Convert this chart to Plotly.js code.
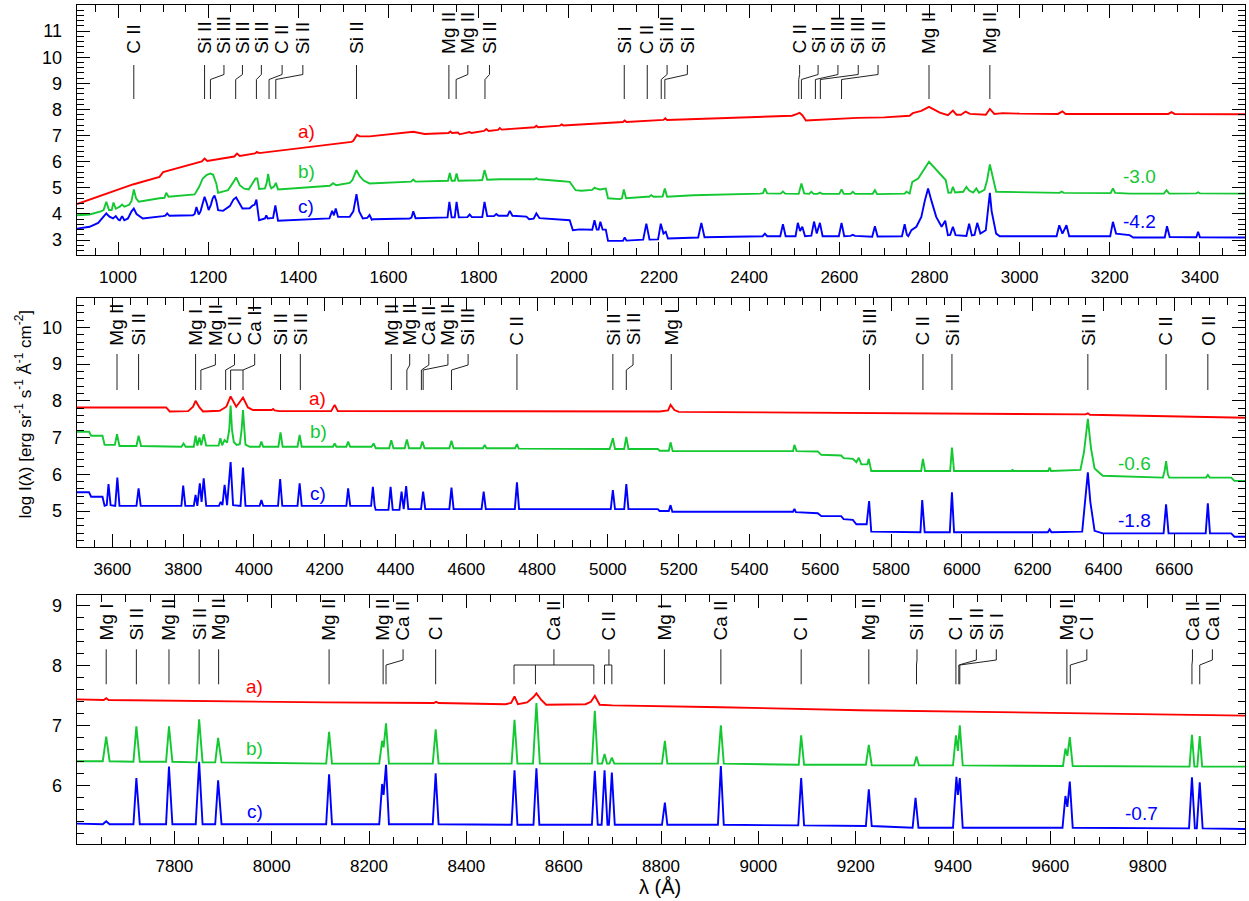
<!DOCTYPE html>
<html><head><meta charset="utf-8">
<script src="https://cdn.plot.ly/plotly-3.0.1.min.js"></script>
<style>body{margin:0;background:#fff}#chart{width:1249px;height:901px}</style>
</head><body><div id="chart"></div>
<script>
// ---------------- DATA ----------------
// Panel 1 spectra [wavelength (Å), log I]
const p1_a = [[909,4.38],[981,4.81],[1033,5.13],[1092,5.42],[1100,5.60],[1186,6.01],[1192,6.12],[1198,6.03],[1258,6.2],[1264,6.31],[1270,6.22],[1304,6.32],[1308,6.38],[1313,6.33],[1518,6.76],[1522,6.8],[1527,6.97],[1530,7.03],[1536,6.97],[1558,6.97],[1655,7.15],[1680,7.06],[1733,7.1],[1737,7.16],[1741,7.1],[1750,7.1],[1754,7.12],[1758,7.05],[1776,7.1],[1780,7.14],[1784,7.1],[1812,7.18],[1817,7.25],[1822,7.18],[1843,7.22],[1847,7.29],[1851,7.23],[1924,7.32],[1928,7.38],[1932,7.32],[1980,7.38],[1984,7.43],[1988,7.39],[2046,7.45],[2120,7.52],[2124,7.58],[2128,7.52],[2210,7.6],[2214,7.66],[2218,7.6],[2430,7.72],[2495,7.76],[2505,7.82],[2512,7.87],[2518,7.78],[2526,7.58],[2640,7.68],[2700,7.7],[2756,7.76],[2763,7.86],[2782,7.95],[2799,8.1],[2823,7.88],[2841,7.78],[2852,7.96],[2860,7.8],[2870,7.8],[2880,7.92],[2890,7.83],[2925,7.8],[2934,8.02],[2944,7.83],[2963,7.86],[3000,7.84],[3085,7.83],[3095,7.93],[3102,7.83],[3330,7.83],[3337,7.9],[3344,7.83],[3500,7.82]];
const p1_b = [[909,3.95],[937,3.98],[962,4.1],[968,4.15],[974,4.47],[980,4.15],[986,4.15],[990,4.44],[995,4.2],[1004,4.28],[1009,4.36],[1014,4.28],[1025,4.35],[1030,4.5],[1035,4.94],[1040,4.6],[1046,4.47],[1055,4.5],[1092,4.6],[1103,4.62],[1107,4.81],[1112,4.66],[1170,4.75],[1180,5.04],[1188,5.36],[1197,5.5],[1205,5.55],[1211,5.5],[1218,5.17],[1222,4.81],[1233,4.85],[1244,4.91],[1255,5.2],[1262,5.40],[1270,5.1],[1280,4.97],[1290,4.94],[1296,5.1],[1299,5.19],[1305,5.36],[1309,5.36],[1313,4.96],[1326,4.98],[1330,5.2],[1333,5.53],[1337,5.1],[1340,4.98],[1346,5.05],[1350,5.19],[1355,4.94],[1470,5.08],[1477,5.18],[1484,5.1],[1514,5.19],[1520,5.3],[1529,5.68],[1536,5.45],[1545,5.28],[1558,5.17],[1650,5.24],[1655,5.32],[1660,5.24],[1732,5.27],[1736,5.57],[1740,5.27],[1747,5.27],[1751,5.55],[1755,5.27],[1800,5.29],[1808,5.3],[1813,5.68],[1819,5.31],[1847,5.33],[1900,5.33],[1924,5.33],[1928,5.37],[1932,5.33],[1980,5.26],[2002,5.23],[2015,4.91],[2028,4.89],[2052,4.92],[2057,5.01],[2060,4.98],[2064,4.95],[2069,4.94],[2082,4.97],[2087,4.6],[2113,4.57],[2118,4.6],[2122,4.94],[2127,4.6],[2172,4.66],[2178,4.66],[2183,4.72],[2188,4.66],[2208,4.67],[2213,4.98],[2218,4.66],[2276,4.72],[2424,4.78],[2431,4.8],[2435,4.98],[2440,4.79],[2470,4.78],[2475,4.86],[2480,4.78],[2510,4.77],[2516,5.17],[2522,4.79],[2533,4.77],[2538,4.85],[2543,4.77],[2552,4.77],[2557,4.82],[2562,4.77],[2600,4.77],[2605,4.94],[2610,4.77],[2625,4.77],[2630,4.85],[2635,4.77],[2674,4.77],[2679,4.91],[2684,4.76],[2745,4.78],[2749,4.85],[2756,4.78],[2762,5.23],[2775,5.36],[2799,6.0],[2823,5.55],[2836,5.30],[2842,4.81],[2848,4.82],[2852,5.04],[2857,4.82],[2875,4.85],[2882,5.04],[2888,4.9],[2897,4.82],[2904,4.98],[2910,4.81],[2922,4.92],[2928,5.3],[2934,5.9],[2940,5.4],[2948,4.85],[3089,4.81],[3093,4.86],[3098,4.81],[3202,4.8],[3207,4.98],[3212,4.81],[3244,4.78],[3320,4.78],[3326,4.91],[3332,4.78],[3392,4.79],[3396,4.83],[3400,4.79],[3500,4.78]];
const p1_c = [[909,3.44],[937,3.51],[956,3.66],[967,3.89],[974,4.02],[981,3.9],[989,3.83],[995,3.92],[1001,3.78],[1004,3.76],[1009,3.92],[1014,3.76],[1022,3.83],[1030,4.1],[1035,4.21],[1041,4.0],[1048,3.9],[1055,3.83],[1100,3.92],[1105,3.94],[1109,4.02],[1114,3.93],[1166,3.95],[1170,4.0],[1174,4.27],[1179,3.98],[1183,4.1],[1187,4.4],[1192,4.66],[1197,4.4],[1201,4.15],[1206,4.35],[1210,4.6],[1214,4.71],[1218,4.5],[1222,4.15],[1233,4.12],[1248,4.3],[1256,4.55],[1262,4.63],[1268,4.45],[1276,4.21],[1292,4.22],[1299,4.33],[1303,4.35],[1307,4.55],[1311,4.0],[1313,3.76],[1326,3.83],[1329,3.95],[1332,3.83],[1344,3.85],[1349,4.33],[1353,3.85],[1355,3.74],[1469,3.83],[1475,4.12],[1479,3.95],[1483,4.21],[1488,3.89],[1514,3.89],[1522,4.1],[1529,4.76],[1535,4.1],[1543,3.83],[1553,3.85],[1558,3.96],[1563,3.78],[1566,3.8],[1647,3.83],[1651,3.86],[1655,4.1],[1660,3.84],[1731,3.87],[1735,4.46],[1740,3.87],[1747,3.87],[1751,4.46],[1756,3.87],[1775,3.88],[1780,3.98],[1785,3.88],[1808,3.88],[1813,4.46],[1819,3.92],[1834,3.92],[1839,4.0],[1844,3.93],[1864,3.93],[1869,4.12],[1875,3.93],[1906,3.9],[1912,3.8],[1922,3.82],[1928,4.02],[1935,3.84],[1972,3.79],[2002,3.76],[2009,3.38],[2024,3.41],[2052,3.4],[2057,3.76],[2062,3.4],[2066,3.4],[2070,3.70],[2075,3.4],[2082,3.4],[2087,2.97],[2120,2.97],[2124,3.1],[2128,2.98],[2165,3.02],[2172,3.63],[2179,3.02],[2198,3.03],[2204,3.63],[2210,3.25],[2215,3.32],[2220,3.06],[2287,3.10],[2294,3.66],[2301,3.11],[2430,3.15],[2435,3.25],[2440,3.15],[2469,3.15],[2475,3.61],[2481,3.15],[2503,3.15],[2508,3.66],[2513,3.35],[2518,3.51],[2524,3.15],[2538,3.17],[2544,3.71],[2550,3.25],[2557,3.66],[2563,3.15],[2599,3.15],[2605,3.66],[2611,3.15],[2625,3.16],[2630,3.2],[2635,3.16],[2673,3.13],[2679,3.53],[2685,3.14],[2739,3.15],[2745,3.61],[2750,3.2],[2753,3.15],[2760,3.38],[2771,3.51],[2782,3.89],[2790,4.53],[2797,4.98],[2804,4.53],[2815,3.89],[2827,3.51],[2835,3.74],[2841,3.19],[2846,3.2],[2852,3.51],[2858,3.19],[2882,3.16],[2888,3.63],[2894,3.18],[2900,3.2],[2906,3.66],[2913,3.25],[2925,3.38],[2930,4.1],[2934,4.81],[2938,4.1],[2943,3.6],[2948,3.25],[2956,3.15],[3082,3.15],[3088,3.57],[3095,3.25],[3104,3.57],[3110,3.15],[3201,3.15],[3207,3.70],[3214,3.25],[3244,3.19],[3252,3.10],[3322,3.1],[3327,3.53],[3333,3.12],[3392,3.11],[3396,3.32],[3400,3.11],[3500,3.10]];

// Panel 2 spectra
const p2_a = [[3500,7.82],[3752,7.82],[3762,7.71],[3814,7.72],[3828,7.84],[3835,8.0],[3846,7.82],[3856,7.71],[3903,7.73],[3922,7.84],[3934,8.12],[3950,7.84],[3969,8.09],[3983,7.82],[3997,7.75],[4050,7.75],[4054,7.78],[4058,7.74],[4072,7.72],[4218,7.72],[4228,7.89],[4237,7.72],[5146,7.71],[5170,7.74],[5177,7.89],[5188,7.75],[5200,7.7],[5767,7.66],[6350,7.63],[6356,7.66],[6362,7.62],[6800,7.54]];
const p2_b = [[3500,7.16],[3534,7.16],[3540,7.05],[3572,7.05],[3578,6.80],[3607,6.8],[3613,7.09],[3620,6.77],[3668,6.77],[3674,7.05],[3681,6.77],[3795,6.75],[3801,6.84],[3807,6.75],[3830,6.75],[3835,7.05],[3840,6.78],[3846,7.0],[3851,6.79],[3858,7.09],[3865,6.78],[3900,6.78],[3905,6.98],[3910,6.79],[3917,6.93],[3924,6.86],[3930,7.2],[3934,7.87],[3938,7.2],[3943,6.88],[3951,6.8],[3960,6.82],[3965,7.2],[3969,7.75],[3973,7.2],[3976,6.81],[3988,6.75],[4016,6.75],[4021,6.89],[4026,6.75],[4069,6.75],[4075,7.14],[4081,6.75],[4123,6.75],[4129,7.07],[4135,6.75],[4223,6.75],[4228,6.84],[4233,6.75],[4261,6.75],[4266,6.89],[4272,6.75],[4332,6.75],[4338,6.84],[4344,6.71],[4382,6.71],[4388,6.93],[4394,6.71],[4426,6.71],[4432,6.95],[4438,6.71],[4470,6.71],[4476,6.89],[4482,6.71],[4552,6.71],[4558,6.91],[4564,6.71],[4647,6.71],[4652,6.80],[4657,6.71],[4738,6.71],[4743,6.82],[4748,6.70],[5005,6.69],[5014,6.98],[5020,6.69],[5046,6.69],[5052,7.02],[5058,6.69],[5141,6.69],[5146,6.64],[5172,6.64],[5177,6.87],[5183,6.63],[5523,6.63],[5527,6.80],[5533,6.63],[5593,6.62],[5603,6.53],[5659,6.51],[5666,6.44],[5692,6.42],[5702,6.33],[5709,6.45],[5716,6.27],[5733,6.27],[5737,6.42],[5741,6.27],[5744,6.09],[5885,6.09],[5890,6.42],[5896,6.09],[5967,6.09],[5972,6.73],[5978,6.09],[6139,6.09],[6143,6.12],[6147,6.09],[6244,6.09],[6248,6.18],[6252,6.09],[6335,6.12],[6345,6.6],[6356,7.51],[6365,6.7],[6375,6.16],[6398,5.96],[6568,5.91],[6573,6.1],[6577,6.36],[6582,6.0],[6586,5.91],[6690,5.91],[6695,5.98],[6700,5.91],[6761,5.91],[6770,5.82],[6800,5.82]];
const p2_c = [[3500,5.51],[3534,5.51],[3540,5.39],[3572,5.39],[3578,5.14],[3584,5.16],[3589,5.73],[3595,5.16],[3608,5.14],[3614,5.91],[3620,5.14],[3668,5.14],[3674,5.62],[3680,5.14],[3795,5.14],[3800,5.69],[3806,5.14],[3830,5.14],[3835,5.44],[3840,5.14],[3847,5.75],[3852,5.25],[3858,5.89],[3865,5.14],[3901,5.14],[3906,5.25],[3911,5.16],[3917,5.71],[3924,5.16],[3934,6.33],[3941,5.16],[3962,5.14],[3969,6.18],[3976,5.14],[4016,5.14],[4021,5.30],[4026,5.14],[4068,5.14],[4074,5.87],[4080,5.14],[4123,5.14],[4129,5.75],[4135,5.14],[4261,5.14],[4266,5.62],[4272,5.14],[4331,5.14],[4336,5.66],[4341,5.14],[4344,5.03],[4380,5.03],[4386,5.66],[4392,5.03],[4411,5.03],[4417,5.53],[4423,5.05],[4430,5.68],[4436,5.05],[4472,5.05],[4478,5.53],[4484,5.05],[4552,5.05],[4558,5.64],[4564,5.05],[4643,5.05],[4649,5.53],[4655,5.05],[4737,5.05],[4743,5.78],[4749,5.05],[5008,5.05],[5014,5.57],[5020,5.05],[5046,5.05],[5052,5.73],[5058,5.05],[5141,5.05],[5146,5.0],[5172,5.0],[5177,5.16],[5182,4.98],[5523,4.98],[5527,5.06],[5531,4.97],[5593,4.94],[5603,4.86],[5659,4.86],[5666,4.78],[5692,4.76],[5702,4.64],[5731,4.64],[5738,5.27],[5744,4.44],[5883,4.42],[5888,5.30],[5895,4.42],[5966,4.42],[5972,5.51],[5978,4.42],[6243,4.42],[6248,4.50],[6253,4.42],[6340,4.44],[6349,5.25],[6356,6.05],[6363,5.25],[6375,4.46],[6398,4.39],[6570,4.39],[6577,5.18],[6584,4.39],[6689,4.39],[6695,5.21],[6701,4.39],[6761,4.39],[6770,4.30],[6800,4.30]];

// Panel 3 spectra
const p3_a = [[7600,7.44],[7655,7.43],[7660,7.46],[7665,7.43],[8112,7.39],[8333,7.38],[8338,7.4],[8343,7.38],[8480,7.36],[8492,7.38],[8499,7.49],[8506,7.36],[8525,7.39],[8538,7.48],[8544,7.54],[8554,7.43],[8564,7.35],[8645,7.36],[8656,7.40],[8664,7.50],[8674,7.35],[8700,7.34],[8923,7.31],[9208,7.26],[10000,7.17]];
const p3_b = [[7600,6.41],[7653,6.41],[7660,6.82],[7667,6.41],[7716,6.40],[7722,6.99],[7729,6.40],[7783,6.40],[7789,6.99],[7796,6.40],[7845,6.39],[7851,7.11],[7858,6.39],[7884,6.39],[7890,6.80],[7897,6.39],[8112,6.37],[8118,6.90],[8124,6.37],[8221,6.37],[8227,6.75],[8230,6.64],[8235,7.04],[8241,6.37],[8331,6.37],[8337,6.94],[8343,6.37],[8493,6.37],[8499,7.10],[8505,6.37],[8537,6.37],[8544,7.38],[8551,6.37],[8658,6.37],[8664,7.25],[8670,6.37],[8679,6.37],[8684,6.53],[8689,6.37],[8694,6.37],[8699,6.47],[8704,6.37],[8802,6.37],[8808,6.75],[8813,6.37],[8917,6.37],[8923,7.01],[8929,6.37],[9083,6.35],[9088,6.84],[9094,6.35],[9221,6.35],[9227,6.68],[9233,6.34],[9320,6.34],[9325,6.49],[9330,6.34],[9400,6.34],[9406,6.84],[9410,6.58],[9414,7.01],[9420,6.34],[9626,6.33],[9631,6.62],[9635,6.5],[9640,6.81],[9646,6.33],[9886,6.32],[9891,6.85],[9896,6.32],[9902,6.32],[9907,6.83],[9912,6.32],[10000,6.32]];
const p3_c = [[7600,5.37],[7653,5.36],[7660,5.41],[7667,5.36],[7716,5.36],[7722,6.13],[7729,5.36],[7783,5.36],[7789,6.32],[7796,5.36],[7844,5.36],[7851,6.40],[7858,5.36],[7884,5.36],[7890,6.09],[7897,5.36],[8112,5.36],[8118,6.19],[8124,5.36],[8221,5.36],[8227,6.03],[8230,5.85],[8235,6.35],[8241,5.36],[8331,5.36],[8337,6.21],[8343,5.36],[8493,5.35],[8499,6.26],[8505,5.35],[8538,5.35],[8544,6.29],[8550,5.35],[8658,5.35],[8664,6.25],[8670,5.35],[8678,5.35],[8684,6.26],[8690,5.35],[8693,5.35],[8699,6.22],[8705,5.35],[8802,5.35],[8808,5.72],[8813,5.35],[8917,5.35],[8923,6.33],[8929,5.35],[9082,5.34],[9088,6.13],[9094,5.34],[9221,5.33],[9227,5.94],[9233,5.33],[9317,5.30],[9323,5.80],[9329,5.30],[9400,5.30],[9407,6.15],[9410,5.85],[9414,6.13],[9420,5.30],[9625,5.30],[9631,5.83],[9635,5.65],[9640,6.07],[9646,5.30],[9885,5.29],[9891,6.14],[9897,5.29],[9901,5.29],[9907,6.06],[9913,5.29],[10000,5.28]];

// Line identifications: ion, line wavelength(s), label position (Å)
const p1_ion  = ["C II","Si II","Si III","Si II","Si II","C II","Si II","Si II","Mg II","Mg II","Si II","Si I","C II","Si III","Si I","C II","Si I","Si III","Si III","Si II","Mg II","Mg II"];
const p1_line = [1035,1192,1205,1261,1307,1335,1350,1529,1734,1750,1814,2123,2174,2205,2213,2510,2516,2547,2558,2605,2799,2934];
const p1_text = [1035,1192,1235,1276,1318,1364,1410,1529,1734,1776,1824,2123,2174,2218,2263,2512,2553,2597,2642,2686,2799,2934];

const p2_ion  = ["Mg II","Si II","Mg I","Mg II","C II","Ca II","Si II","Si II","Mg II","Mg II","Ca II","Mg II","Si III","C II","Si II","Si II","Mg I","Si III","C II","Si II","Si II","C II","O II"];
const p2_line = [3613,3674,3835,3850,3920,[3934,3969],4075,4131,4388,4432,4473,4478,4558,4743,5014,5052,5179,5739,5890,5972,6356,6577,6695];
const p2_text = [3613,3674,3835,3891,3945,4002,4075,4131,4388,4440,4494,4548,4605,4743,5014,5071,5179,5739,5890,5972,6356,6577,6695];

const p3_ion  = ["Mg I","Si II","Mg II","Si II","Mg II","Mg II","Mg II","Ca II","C I","Ca II","C II","Mg I","Ca II","C I","Mg II","Si III","C I","Si II","Si I","Mg II","C I","Ca II","Ca II"];
const p3_line = [7660,7722,7789,7851,7891,8118,8229,8235,8337,[8498,8542,8662],[8684,8699],8807,8923,9088,9227,9325,9406,9412,9414,9634,9641,9891,9907];
const p3_text = [7660,7722,7789,7851,7891,8118,8229,8270,8337,8580,8693,8807,8923,9088,9227,9326,9406,9448,9489,9634,9675,9892,9933];

// Axis ticks
const p1_xticks = [1000,1200,1400,1600,1800,2000,2200,2400,2600,2800,3000,3200,3400];
const p2_xticks = [3600,3800,4000,4200,4400,4600,4800,5000,5200,5400,5600,5800,6000,6200,6400,6600];
const p3_xticks = [7800,8000,8200,8400,8600,8800,9000,9200,9400,9600,9800];
const p1_yticks = [3,4,5,6,7,8,9,10,11];
const p2_yticks = [5,6,7,8,9,10];
const p3_yticks = [6,7,8,9];

// Curve names and offsets
const curveNames = ["a)","b)","c)"];
const p1_offsets = ["-3.0","-4.2"];
const p2_offsets = ["-0.6","-1.8"];
const p3_offsets = ["-0.7"];

// ---------------- STYLE / LAYOUT ----------------
const FONT = "Liberation Sans, Arial, Helvetica, sans-serif";
const RED = "#ff0000", GREEN = "#14c832", BLUE = "#0000ff";
const W = 1249, H = 901, ML = 77, MR = 4, MT = 5, MB = 57;
const PH = H - MT - MB; // plot-area height in px
const py = px => (H - MB - px) / PH; // pixel row -> paper fraction

const panels = [
  {xa:'x',  ya:'y',  xr:[909,3500],  yr:[2.43,12.0], top:5,   bot:255, xt:p1_xticks, yt:p1_yticks,
   spec:[p1_a,p1_b,p1_c], ion:p1_ion, line:p1_line, text:p1_text,
   lead:{tb:55, top:65, k1:74.5, k2:79.5, bot:99}},
  {xa:'x2', ya:'y2', xr:[3500,6800], yr:[4.02,10.8], top:298, bot:547, xt:p2_xticks, yt:p2_yticks,
   spec:[p2_a,p2_b,p2_c], ion:p2_ion, line:p2_line, text:p2_text,
   lead:{tb:346.7, top:354, k1:365, k2:370, bot:390}},
  {xa:'x3', ya:'y3', xr:[7600,10000], yr:[5.03,9.18], top:595, bot:844, xt:p3_xticks, yt:p3_yticks,
   spec:[p3_a,p3_b,p3_c], ion:p3_ion, line:p3_line, text:p3_text,
   lead:{tb:641.7, top:649.3, k1:660, k2:665, bot:684.3}}
];

const colors = [RED, GREEN, BLUE];
const traces = [];
const shapes = [];
const annotations = [];
const layout = {
  width: W, height: H, margin: {l:ML, r:MR, t:MT, b:MB},
  paper_bgcolor: '#fff', plot_bgcolor: '#fff', showlegend: false,
  font: {family: FONT, color: '#000'}
};

function axisCommon(range, tickvals, minorDtick) {
  return {
    range: range, autorange: false,
    tickmode: 'array', tickvals: tickvals, ticktext: tickvals.map(String),
    ticks: 'inside', ticklen: 13, tickwidth: 1, tickcolor: '#000',
    showline: true, linecolor: '#000', linewidth: 1.4, mirror: 'allticks',
    showgrid: false, zeroline: false,
    minor: {ticks: 'inside', ticklen: 7, tickwidth: 1, tickcolor: '#000',
            tickmode: 'linear', tick0: 0, dtick: minorDtick, showgrid: false},
    tickfont: {family: FONT, size: 17, color: '#000'}
  };
}

panels.forEach((p, i) => {
  const sfx = i === 0 ? '' : String(i + 1);
  const xa = axisCommon(p.xr, p.xt, 50);
  xa.anchor = p.ya; xa.domain = [0, 1]; xa.ticklabelstandoff = 6;
  const ya = axisCommon(p.yr, p.yt, 0.2);
  ya.anchor = p.xa; ya.domain = [py(p.bot), py(p.top)]; ya.ticklabelstandoff = 10;
  ya.tickfont = {family: FONT, size: 18, color: '#000'};
  layout['xaxis' + sfx] = xa;
  layout['yaxis' + sfx] = ya;

  p.spec.forEach((s, k) => {
    traces.push({type: 'scatter', mode: 'lines', xaxis: p.xa, yaxis: p.ya,
      x: s.map(v => v[0]), y: s.map(v => v[1]),
      line: {color: colors[k], width: 1.9}, hoverinfo: 'skip'});
  });

  const L = p.lead;
  const yT = py(L.top), y1 = py(L.k1), y2 = py(L.k2), yB = py(L.bot);
  p.ion.forEach((name, j) => {
    const tx = p.text[j];
    const ln = p.line[j];
    let d;
    if (Array.isArray(ln)) {
      const lo = Math.min(...ln), hi = Math.max(...ln);
      const inside = tx >= lo && tx <= hi;
      const c = Math.min(Math.max(tx, lo), hi);
      d = `M${tx},${yT} L${tx},${inside ? y2 : y1} L${c},${y2} M${lo},${y2} L${hi},${y2}`;
      ln.forEach(w => { d += ` M${w},${y2} L${w},${yB}`; });
    } else if (Math.abs(ln - tx) < 0.01) {
      d = `M${ln},${yT} L${ln},${yB}`;
    } else {
      d = `M${tx},${yT} L${tx},${y1} L${ln},${y2} L${ln},${yB}`;
    }
    shapes.push({type: 'path', xref: p.xa, yref: 'paper', path: d,
      line: {color: '#222', width: 1}});
    annotations.push({xref: p.xa, yref: 'paper', x: tx, y: py(L.tb),
      xanchor: 'center', yanchor: 'bottom', textangle: -90, showarrow: false,
      text: name, font: {family: FONT, size: 19, color: '#000'}, borderpad: 0});
  });
});

// curve labels a) b) c) and offsets
function addLabel(xa, ya, x, y, text, color) {
  annotations.push({xref: xa, yref: ya, x: x, y: y, text: text, showarrow: false,
    xanchor: 'center', yanchor: 'middle', font: {family: FONT, size: 19, color: color}});
}
addLabel('x','y',1418,7.15,curveNames[0],RED);
addLabel('x','y',1418,5.61,curveNames[1],GREEN);
addLabel('x','y',1418,4.27,curveNames[2],BLUE);
addLabel('x','y',3266,5.42,p1_offsets[0],GREEN);
addLabel('x','y',3266,3.70,p1_offsets[1],BLUE);
addLabel('x2','y2',4180,8.07,curveNames[0],RED);
addLabel('x2','y2',4181,7.16,curveNames[1],GREEN);
addLabel('x2','y2',4181,5.48,curveNames[2],BLUE);
addLabel('x2','y2',6488,6.30,p2_offsets[0],GREEN);
addLabel('x2','y2',6488,4.75,p2_offsets[1],BLUE);
addLabel('x3','y3',7965,7.65,curveNames[0],RED);
addLabel('x3','y3',7965,6.63,curveNames[1],GREEN);
addLabel('x3','y3',7965,5.58,curveNames[2],BLUE);
addLabel('x3','y3',9787,5.54,p3_offsets[0],BLUE);

// axis titles
annotations.push({xref:'paper', yref:'paper', x:(660-ML)/(W-ML-MR), y:py(887),
  xanchor:'center', yanchor:'middle', showarrow:false, text:'λ (Å)',
  font:{family:FONT, size:20, color:'#000'}});
annotations.push({xref:'paper', yref:'paper', x:(23.5-ML)/(W-ML-MR), y:py(414),
  xanchor:'center', yanchor:'middle', showarrow:false, textangle:-90,
  text:'log I(λ) [erg sr<sup>-1</sup> s<sup>-1</sup> Å<sup>-1</sup> cm<sup>-2</sup>]',
  font:{family:FONT, size:17, color:'#000'}});

layout.shapes = shapes;
layout.annotations = annotations;

Plotly.newPlot('chart', traces, layout, {displayModeBar: false, staticPlot: true});
</script>
</body></html>
